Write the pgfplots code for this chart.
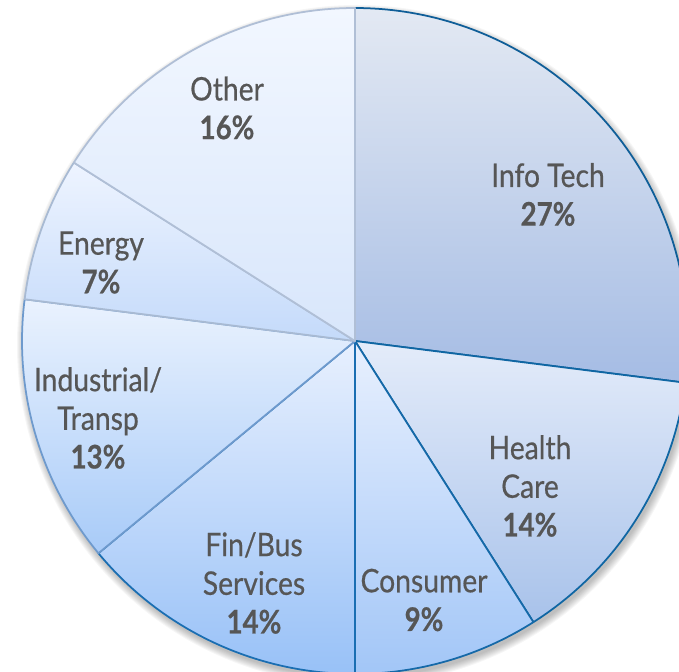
\documentclass[border=0pt]{standalone}
\usepackage{pgfplots}
\pgfplotsset{compat=1.18}
\usepackage{fontspec}
\setmainfont{Lato}[FakeStretch=0.87, FakeBold=0.5, BoldFont={Lato Bold}, BoldFeatures={FakeStretch=0.85, FakeBold=0.6}]

\definecolor{txt}{RGB}{86,86,86}
\definecolor{itTop}{HTML}{E3E9F3}\definecolor{itBot}{HTML}{A5BCE4}\definecolor{itLine}{HTML}{0F5E98}
\definecolor{hcTop}{HTML}{E4ECFA}\definecolor{hcBot}{HTML}{A8C2EA}\definecolor{hcLine}{HTML}{0F66A3}
\definecolor{coTop}{HTML}{E8F0FE}\definecolor{coBot}{HTML}{A2C6F7}\definecolor{coLine}{HTML}{1569A8}
\definecolor{fbTop}{HTML}{E8F0FE}\definecolor{fbBot}{HTML}{98C1F7}\definecolor{fbLine}{HTML}{1A6EB2}
\definecolor{inTop}{HTML}{EAF2FE}\definecolor{inBot}{HTML}{A8CBF8}\definecolor{inLine}{HTML}{6E9ACD}
\definecolor{enTop}{HTML}{EEF4FF}\definecolor{enBot}{HTML}{C4DAFA}\definecolor{enLine}{HTML}{A8BAD3}
\definecolor{otTop}{HTML}{F2F7FF}\definecolor{otBot}{HTML}{D8E6FB}\definecolor{otLine}{HTML}{B0BFD6}

% pie centre and radius, in picture pixels (axis units)
\def\cx{355}\def\cy{331}\def\R{333}

% #1 cumulative share before, #2 cumulative share after (percent), #3 prefix of colours
\newcommand{\slice}[3]{%
  \pgfmathsetmacro\sa{90-3.6*#2}%
  \pgfmathsetmacro\sb{90-3.6*#1}%
  \addplot[draw=#3Line, line width=1pt, line join=round, top color=#3Top, bottom color=#3Bot,
      domain=\sa:\sb, samples=90, variable=\t]
    ({\cx+\R*cos(\t)}, {\cy+\R*sin(\t)}) -- (axis cs:355,331) -- cycle;
}

\begin{document}
\begin{tikzpicture}
\begin{axis}[
    width=13.58cm, height=13.44cm, scale only axis,
    xmin=0, xmax=679, ymin=0, ymax=672,
    hide axis, clip=true,
]
% soft shadow under the pie
\pgfplotsinvokeforeach{0,...,7}{
  \fill[black, opacity=0.035] (axis cs:357,327) circle [radius={6.66cm+#1*0.02cm}];
}
% shares: Info Tech 27, Health Care 14, Consumer 9, Fin/Bus 14,
% Industrial/Transp 13, Energy 7, Other 16 (clockwise from 12 o'clock)
\slice{0}{27}{it}
\slice{27}{41}{hc}
\slice{41}{50}{co}
\slice{50}{64}{fb}
\slice{64}{77}{in}
\slice{77}{84}{en}
\slice{84}{100}{ot}

\begin{scope}[every node/.style={text=txt, align=center, inner sep=0pt,
    font=\fontsize{18.5}{22}\selectfont}]
\node at (axis cs:548,477.5) {Info Tech\\\textbf{27\%}};
\node at (axis cs:530,186) {Health\\Care\\\textbf{14\%}};
\node at (axis cs:424,72) {Consumer\\\textbf{9\%}};
\node at (axis cs:254,89) {Fin/Bus\\Services\\\textbf{14\%}};
\node at (axis cs:98,254) {Industrial/\\Transp\\\textbf{13\%}};
\node at (axis cs:101,409.5) {Energy\\\textbf{7\%}};
\node at (axis cs:227,564) {Other\\\textbf{16\%}};
\end{scope}
\end{axis}
\pgfresetboundingbox
\path[use as bounding box] (current axis.south west) rectangle (current axis.north east);
\end{tikzpicture}
\end{document}
